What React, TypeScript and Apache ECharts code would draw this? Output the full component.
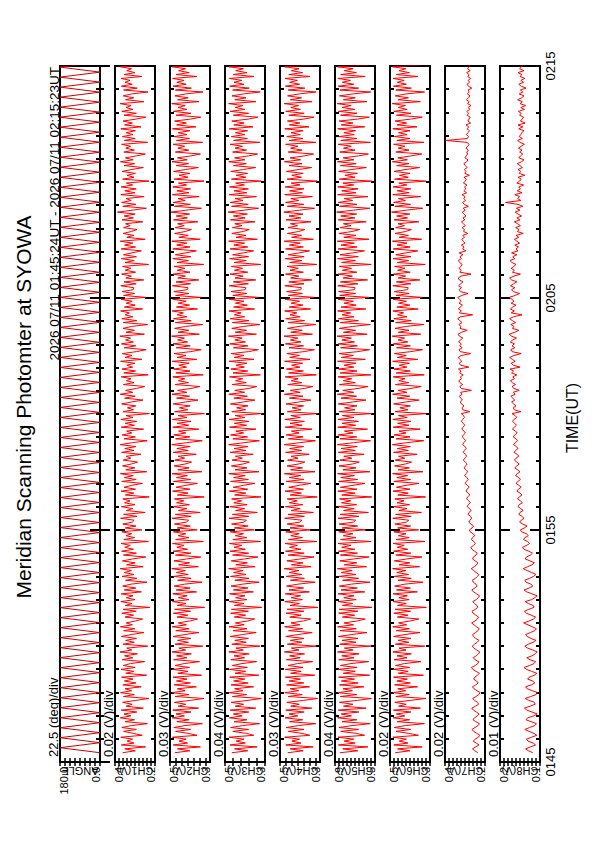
import { useEffect, useRef } from 'react';
import * as echarts from 'echarts';

const FONT = '"Liberation Sans", Arial, Helvetica, sans-serif';

const titleText = 'Meridian Scanning Photomter at SYOWA';
const headerText = '2026 07/11 01:45:24UT - 2026 07/11 02:15:23UT';
const timeAxisName = 'TIME(UT)';
const timeLabels = ['0145', '0155', '0205', '0215'];
const panelNames = ['ANGLE', 'CH1(V)', 'CH2(V)', 'CH3(V)', 'CH4(V)', 'CH5(V)', 'CH6(V)', 'CH7(V)', 'CH8(V)'];
const divLabels = ['22.5 (deg)/div', '0.02 (V)/div', '0.03 (V)/div', '0.04 (V)/div', '0.03 (V)/div', '0.04 (V)/div', '0.02 (V)/div', '0.02 (V)/div', '0.01 (V)/div'];
const maxLabels = ['180.0', '0.4', '0.5', '0.5', '0.5', '0.9', '0.5', '0.4', '0.2'];
const minLabels = ['0.0', '0.2', '0.3', '0.3', '0.3', '0.5', '0.3', '0.2', '0.1'];
const axisMax = [180, 0.4, 0.5, 0.5, 0.5, 0.9, 0.5, 0.4, 0.2];
const axisMin = [0, 0.2, 0.3, 0.3, 0.3, 0.5, 0.3, 0.2, 0.1];
const divSteps = [22.5, 0.02, 0.03, 0.04, 0.03, 0.04, 0.02, 0.02, 0.01];
// minutes after 01:45 UT
const startMin = 0.4;   // 01:45:24
const endMin = 30.383;  // 02:15:23

const angleDeg = [
  0,180,0,180,0,180,0,180,0,180, 0,180,0,180,0,180,0,180,0,180,
  0,180,0,180,0,180,0,180,0,180, 0,180,0,180,0,180,0,180,0,180,
  0,180,0,180,0,180,0,180,0,180, 0,180,0,180,0,180,0,180,0,180,
  0,180,0,180,0,180,0,180,0,180, 0,180,0,180,0,180,0,180,0,180,
  0,180,0,180,0,180,0,180,0,180, 0,180,0,180,0,180,0,180,0,180,
  0,180,0,180,0,180,0,180,0,180, 0,180,0,180,0,180,0,180,0,180,
  0,180,0,180,0,180,0,180,0,180, 0,180,0,180,0,180,0,180,0,180,
];

const ch1mV = [
  362,298,351,247,368,305,340,312,371,264, 309,357,293,366,318,238,349,302,374,321,
  355,291,369,258,344,314,362,296,231,358, 303,372,317,349,269,361,295,353,310,367,
  242,346,306,370,299,358,323,252,364,311, 352,288,375,316,341,236,359,304,347,292,
  368,319,255,357,301,373,313,344,297,262, 350,307,366,294,360,226,348,315,371,300,
  343,310,369,268,354,296,362,320,240,347, 291,365,305,353,318,374,259,342,299,363,
  312,246,358,293,367,308,351,324,370,233, 356,302,345,317,366,265,349,295,361,314,
  304,372,290,357,249,343,311,368,300,352, 325,361,229,348,306,370,297,355,316,263,
  366,294,353,309,373,241,346,301,362,319, 287,359,321,344,270,367,305,351,296,374,
  313,239,355,298,364,316,342,257,369,303, 349,292,371,310,345,228,360,307,338,296,
  367,318,260,352,299,374,311,347,292,251, 358,305,343,320,369,234,356,297,365,312,
  341,301,372,266,350,315,363,293,244,354, 296,368,308,347,322,376,253,345,303,360,
  317,237,359,291,366,311,349,328,372,262, 353,299,344,314,370,245,357,302,364,308,
  306,371,294,355,256,346,318,367,297,349, 321,362,232,350,304,368,293,358,315,268,
  369,297,352,311,374,249,341,306,360,318, 290,357,324,347,261,365,308,354,299,388,
  314,243,361,295,367,319,345,254,371,300, 351,294,369,312,343,230,362,305,340,298,
  365,316,258,354,302,373,309,348,293,248, 356,303,346,322,367,237,353,299,363,310,
  344,298,371,270,352,313,360,295,246,355, 293,366,310,345,319,375,255,347,306,359,
  316,235,357,289,368,314,350,325,369,266, 354,300,341,318,372,251,358,304,362,309,
];

const ch2mV = [
  476,401,463,348,484,412,455,419,488,365, 409,472,397,481,425,338,466,404,490,428,
  470,395,486,357,459,421,478,399,331,474, 406,489,424,463,368,479,398,468,415,485,
  342,461,410,487,402,474,429,352,482,416, 467,393,490,422,456,336,475,408,462,396,
  485,426,355,471,404,489,418,459,400,362, 465,411,483,397,477,327,464,420,488,405,
  458,414,486,367,469,399,479,427,340,462, 394,482,409,468,423,491,358,457,402,480,
  417,346,473,396,484,412,466,430,487,333, 472,405,460,421,483,364,464,398,478,419,
  407,489,394,474,349,458,416,485,403,467, 431,478,329,463,410,487,400,470,421,363,
  483,397,468,413,490,341,461,404,479,424, 392,476,427,459,369,484,409,466,399,491,
  418,339,472,401,481,421,457,356,486,406, 464,395,488,415,460,328,477,411,453,399,
  484,423,360,467,402,490,416,462,395,351, 475,408,458,426,486,334,471,400,482,417,
  456,404,489,366,465,420,480,396,344,469, 399,485,412,462,428,492,353,460,406,477,
  422,337,474,394,483,416,464,433,489,362, 468,402,459,419,487,345,472,405,481,413,
  410,488,397,470,356,461,423,484,400,464, 426,479,332,465,408,486,396,473,420,368,
  486,400,467,416,491,349,456,409,477,423, 393,474,429,462,361,482,413,469,402,495,
  419,343,478,398,484,424,460,354,488,405, 466,397,486,417,458,330,479,410,455,401,
  482,421,358,469,407,490,414,463,396,348, 473,406,461,427,484,337,468,402,480,415,
  459,401,488,370,467,418,477,398,346,470, 396,483,415,460,424,491,355,462,409,476,
  421,335,473,393,485,419,466,430,487,366, 470,404,457,422,489,350,474,407,479,412,
];

const ch3mV = [
  466,386,452,339,475,398,444,405,480,356, 393,461,382,472,411,327,455,390,478,414,
  458,381,474,346,449,407,469,385,318,463, 392,479,410,452,357,470,384,457,401,476,
  331,450,397,478,388,463,415,342,471,402, 455,379,481,408,446,325,466,394,451,383,
  474,412,344,460,390,480,404,448,386,352, 454,397,472,383,468,316,453,406,479,391,
  447,400,477,358,458,385,470,413,329,451, 380,473,395,457,409,482,349,446,388,469,
  403,335,462,382,475,398,455,416,478,322, 461,391,449,407,474,353,453,384,467,405,
  393,480,381,463,338,447,402,476,389,456, 417,467,320,452,396,478,386,459,407,351,
  472,383,457,399,481,330,450,390,468,410, 378,465,413,448,359,475,395,455,385,482,
  404,328,461,387,472,407,446,345,477,392, 453,381,479,401,449,318,466,397,442,385,
  473,409,350,456,388,481,402,451,381,341, 464,394,447,412,477,323,460,386,471,403,
  445,390,480,355,454,406,469,382,333,458, 385,476,398,451,414,483,343,449,392,466,
  408,326,463,380,474,402,453,419,480,352, 457,388,448,405,478,334,461,391,470,399,
  396,479,383,459,346,450,409,475,386,453, 412,468,321,454,394,477,382,462,406,357,
  475,386,456,402,482,338,445,395,466,409, 379,463,415,451,350,473,399,458,388,484,
  405,332,467,384,475,410,449,343,479,391, 455,383,477,403,447,319,468,396,444,387,
  471,407,347,458,393,481,400,452,382,337, 462,392,450,413,475,326,457,388,469,401,
  448,387,479,360,456,404,466,384,335,459, 382,474,401,449,410,482,345,451,395,465,
  407,324,462,379,476,405,455,416,478,355, 459,390,446,408,480,339,463,393,468,398,
];

const ch4mV = [
  462,384,449,334,471,395,441,402,477,351, 390,458,380,469,408,321,452,387,475,411,
  455,379,471,341,446,404,466,382,312,460, 389,476,407,449,352,467,381,454,398,473,
  326,447,394,475,385,460,412,337,468,399, 452,377,478,405,443,319,463,391,448,380,
  471,409,339,457,387,477,401,445,383,347, 451,394,469,380,465,311,450,403,476,388,
  444,397,474,353,455,382,467,410,324,448, 378,470,392,454,406,479,344,443,385,466,
  400,330,459,379,472,395,452,413,475,316, 458,388,446,404,471,348,450,381,464,402,
  390,477,378,460,333,444,399,473,386,453, 414,464,314,449,393,475,383,456,404,346,
  469,380,454,396,478,325,447,387,465,407, 376,462,410,445,354,472,392,452,382,479,
  401,323,458,384,469,404,443,340,474,389, 450,378,476,398,446,313,463,394,439,382,
  470,406,345,453,385,478,399,448,378,336, 461,391,444,409,474,318,457,383,468,400,
  442,387,477,350,451,403,466,379,328,455, 382,473,395,448,411,480,338,446,389,463,
  405,321,460,377,471,399,450,416,477,347, 454,385,445,402,475,329,458,388,467,396,
  393,476,380,456,341,447,406,472,383,450, 409,465,316,451,391,474,379,459,403,352,
  472,383,453,399,479,333,442,392,463,406, 376,460,412,448,345,470,396,455,385,481,
  402,327,464,381,472,407,446,338,476,388, 452,380,474,400,444,314,465,393,441,384,
  468,404,342,455,390,478,397,449,379,332, 459,389,447,410,472,321,454,385,466,398,
  445,384,476,355,453,401,463,381,330,456, 379,471,398,446,407,479,340,448,392,462,
  404,319,459,376,473,402,452,413,475,350, 456,387,443,405,477,334,460,390,465,395,
];

const ch5mV = [
  851,672,823,571,866,698,809,713,870,604, 688,843,664,861,729,548,830,682,874,735,
  838,661,867,588,815,720,857,676,536,846, 683,872,726,820,611,855,668,836,704,864,
  553,818,697,869,679,845,741,563,862,709, 832,659,875,718,806,542,853,690,829,670,
  866,732,580,849,687,873,715,811,676,597, 827,703,864,671,858,531,826,724,871,688,
  813,709,868,602,840,677,856,737,549,824, 664,861,693,837,728,876,584,808,683,852,
  712,558,846,675,865,702,833,739,870,539, 844,691,817,721,863,593,828,673,859,716,
  692,870,662,850,566,814,708,867,684,835, 743,855,533,833,699,872,680,847,719,600,
  864,674,842,706,875,551,821,689,860,725, 657,853,731,812,609,866,696,839,678,877,
  714,545,849,683,868,720,806,575,872,694, 830,666,871,710,826,535,858,701,804,680,
  867,727,590,841,685,876,713,822,669,569, 856,697,818,733,869,541,848,679,863,711,
  809,691,874,596,836,717,860,672,554,844, 676,868,705,831,736,879,578,815,694,857,
  723,547,851,666,866,709,829,744,873,592, 840,688,810,716,870,561,852,695,864,703,
  699,872,671,847,574,819,726,869,681,826, 735,857,538,834,696,874,667,850,718,605,
  868,678,839,707,877,559,812,692,861,729, 654,851,740,816,588,867,701,843,683,883,
  716,552,855,680,869,724,808,570,874,690, 833,669,872,713,821,534,857,699,801,676,
  864,730,586,846,688,875,711,819,666,566, 853,700,815,737,868,546,842,682,862,708,
  811,694,873,603,838,719,858,675,557,845, 679,866,702,828,738,878,581,817,697,855,
  720,543,852,664,867,712,827,745,871,598, 843,686,808,719,872,568,850,693,863,706,
];

const ch6mV = [
  474,401,462,339,481,410,454,418,486,358, 407,470,397,479,423,328,464,402,484,426,
  468,395,483,348,457,419,476,399,320,471, 404,485,422,461,362,477,398,466,413,482,
  333,459,409,484,401,472,428,345,480,415, 465,393,486,420,455,326,473,406,460,396,
  482,425,350,469,403,486,417,457,399,356, 463,410,481,397,475,318,462,419,485,404,
  456,413,484,363,467,398,477,426,334,460, 394,479,407,466,421,487,352,455,401,478,
  416,340,471,396,482,411,464,429,484,325, 470,404,458,420,481,357,462,397,476,418,
  406,486,394,472,343,456,415,483,402,465, 430,476,322,461,409,485,400,468,420,355,
  481,397,466,412,487,335,459,403,477,423, 392,474,426,457,364,482,408,464,398,488,
  417,331,470,400,480,420,455,349,484,405, 462,395,486,414,458,319,475,410,451,398,
  482,422,354,465,401,487,415,460,395,344, 473,407,456,425,484,329,469,399,480,416,
  454,403,487,361,463,419,478,396,337,467, 398,483,411,460,427,489,346,458,405,475,
  421,330,472,394,481,415,462,432,486,359, 466,401,457,418,485,339,470,404,479,412,
  409,486,396,468,351,459,422,482,399,462, 425,477,324,463,407,484,395,471,419,361,
  484,399,465,415,488,342,454,408,475,422, 393,472,428,460,356,480,412,467,401,492,
  418,336,476,397,482,423,458,347,486,404, 464,396,484,416,456,321,477,409,453,400,
  480,420,352,467,406,488,413,461,395,341, 471,405,459,426,482,330,466,401,478,414,
  457,400,486,365,465,417,475,397,339,468, 395,481,414,458,423,489,348,460,408,474,
  420,327,471,393,483,418,464,429,485,360, 468,403,455,421,487,344,472,406,477,411,
];

const ch7mV = [
  236,251,263,247,230,244,259,249,233,226, 241,257,265,250,235,228,246,260,253,238,
  229,243,258,266,248,232,237,252,262,245, 231,224,240,255,263,246,234,242,257,251,
  237,228,245,261,268,249,236,231,250,259, 244,233,226,241,256,264,252,239,230,247,
  258,262,248,235,229,243,255,267,250,238, 232,246,260,265,249,236,240,253,261,244,
  234,227,242,258,266,251,239,245,259,263, 248,237,231,244,257,269,254,242,236,249,
  262,258,245,239,252,266,271,257,248,255, 268,263,251,259,274,278,265,257,270,281,
  276,266,272,285,280,269,277,289,284,273, 281,292,287,276,283,295,290,279,288,299,
  293,284,290,302,296,286,294,305,297,289, 299,308,301,292,297,309,303,294,300,311,
  306,297,304,314,308,298,305,316,310,301, 309,318,312,303,307,319,276,311,315,305,
  317,324,313,321,328,315,322,268,319,326, 312,325,331,318,323,309,327,320,333,281,
  322,329,316,326,334,319,272,324,330,314, 327,318,332,323,311,328,335,317,289,325,
  320,331,315,326,337,321,262,329,318,333, 324,313,330,319,327,336,316,285,323,329,
  317,332,322,310,328,334,320,270,326,319, 330,321,314,327,333,318,325,311,329,296,
  312,305,318,300,309,316,302,311,286,307, 303,314,298,308,318,301,310,295,306,313,
  299,309,283,304,312,297,306,300,315,292, 306,296,302,290,308,299,293,305,278,301,
  295,303,289,298,306,292,285,300,294,287, 291,283,296,286,279,290,397,288,282,293,
  285,277,290,281,295,272,286,280,274,289, 282,291,276,284,270,287,279,293,283,275,
  288,279,285,266,283,290,277,284,272,286, 280,292,274,287,281,276,289,271,284,279,
];

const ch8mV = [
  118,129,136,124,111,117,130,134,121,108, 115,127,138,126,113,109,122,135,131,116,
  107,120,133,139,125,112,114,128,137,123, 110,106,119,132,136,122,113,118,131,127,
  114,108,121,134,140,126,115,111,125,133, 120,112,107,118,131,138,129,117,110,123,
  132,136,124,113,109,119,130,141,127,116, 111,122,134,139,128,115,117,129,137,121,
  113,107,120,133,140,127,118,123,135,138, 126,116,110,121,132,142,131,120,114,125,
  137,134,124,119,128,140,144,133,126,131, 141,138,129,134,146,149,139,132,143,151,
  147,140,145,153,150,142,148,155,152,144, 149,156,152,145,150,158,154,147,153,160,
  155,149,153,161,157,150,156,163,158,152, 158,164,160,153,157,165,161,155,159,166,
  162,156,160,167,163,157,161,169,164,159, 163,169,165,158,162,170,148,164,167,160,
  166,171,163,168,173,162,167,152,165,170, 161,169,174,164,168,158,171,166,175,150,
  167,172,162,169,176,165,147,170,173,163, 170,164,174,168,159,171,177,163,153,169,
  165,173,161,169,176,166,145,172,164,174, 168,160,172,165,170,177,162,151,167,171,
  163,174,166,158,171,176,165,149,169,164, 172,166,160,170,175,163,168,158,171,155,
  160,154,163,151,158,164,153,160,142,157, 152,161,149,156,164,150,158,146,155,162,
  150,159,143,155,186,148,156,151,163,145, 157,149,153,141,158,151,147,155,138,152,
  148,155,144,150,157,146,140,153,149,143, 151,145,154,147,139,150,156,144,152,148,
  146,140,153,143,155,137,149,145,141,151, 147,154,139,148,136,150,144,156,146,140,
  152,143,149,135,147,153,141,148,138,150, 145,155,140,151,146,142,154,137,149,144,
];

// ---- layout constants ----
const PANEL_LEFT0 = 60;
const PANEL_PITCH = 55;
const PANEL_W = 40;
const PANEL_TOP = 66;
const PANEL_H = 696;
const PANEL_BOTTOM = PANEL_TOP + PANEL_H;

function toSeries(values: number[], scale: number): number[][] {
  const n = values.length;
  return values.map((v, k) => [v * scale, startMin + (k * (endMin - startMin)) / (n - 1)]);
}

function tickValues(max: number, min: number, step: number): number[] {
  const out: number[] = [];
  for (let k = 0; k < 100; k++) {
    const v = +(max - k * step).toFixed(6);
    if (v < min - 1e-9) break;
    out.push(v);
  }
  return out;
}

function txt(text: string, x: number, y: number, size: number, rotation: number, align: string, vAlign: string) {
  return {
    type: 'text',
    x,
    y,
    rotation,
    silent: true,
    style: {
      text,
      fill: '#000',
      fontSize: size,
      fontFamily: FONT,
      font: `${size}px ${FONT}`,
      align,
      verticalAlign: vAlign,
      textAlign: align,
      textVerticalAlign: vAlign,
    },
  };
}

function buildOption() {
  const seriesData = [
    toSeries(angleDeg, 1),
    toSeries(ch1mV, 0.001),
    toSeries(ch2mV, 0.001),
    toSeries(ch3mV, 0.001),
    toSeries(ch4mV, 0.001),
    toSeries(ch5mV, 0.001),
    toSeries(ch6mV, 0.001),
    toSeries(ch7mV, 0.001),
    toSeries(ch8mV, 0.001),
  ];
  const grids: any[] = [];
  const xAxes: any[] = [];
  const yAxes: any[] = [];
  const series: any[] = [];
  const graphics: any[] = [];
  const nP = panelNames.length;
  for (let i = 0; i < nP; i++) {
    const left = PANEL_LEFT0 + i * PANEL_PITCH;
    grids.push({
      left,
      top: PANEL_TOP,
      width: PANEL_W,
      height: PANEL_H,
      show: true,
      borderColor: '#000',
      borderWidth: 2,
      backgroundColor: 'transparent',
      containLabel: false,
    });
    const ticks = tickValues(axisMax[i], axisMin[i], divSteps[i]);
    for (const pos of ['bottom', 'top']) {
      xAxes.push({
        gridIndex: i,
        type: 'value',
        position: pos,
        min: axisMin[i],
        max: axisMax[i],
        inverse: true,
        axisLine: { show: false },
        axisTick: { show: true, inside: true, length: 4, customValues: ticks, lineStyle: { color: '#000', width: 1.5 } },
        axisLabel: { show: false },
        splitLine: { show: false },
      });
    }
    for (const pos of ['left', 'right']) {
      const isLabelAxis = i === nP - 1 && pos === 'right';
      yAxes.push({
        gridIndex: i,
        type: 'value',
        position: pos,
        min: 0,
        max: 30,
        interval: 10,
        axisLine: { show: false },
        axisTick: { show: true, inside: true, length: 10, lineStyle: { color: '#000', width: 2 } },
        minorTick: { show: true, splitNumber: 10, length: 4, lineStyle: { color: '#000', width: 2 } },
        minorSplitLine: { show: false },
        splitLine: { show: false },
        axisLabel: isLabelAxis
          ? {
              show: true,
              rotate: 90,
              align: 'center',
              verticalAlign: 'top',
              margin: 4,
              fontSize: 13,
              fontFamily: FONT,
              color: '#000',
              showMinLabel: true,
              showMaxLabel: true,
              formatter: (v: number) => timeLabels[Math.round(v / 10)] ?? '',
            }
          : { show: false },
      });
    }
    series.push({
      type: 'line',
      xAxisIndex: 2 * i,
      yAxisIndex: 2 * i,
      data: seriesData[i],
      symbol: 'none',
      showSymbol: false,
      clip: true,
      lineStyle: { color: i === 0 ? '#cc0000' : '#ff0000', width: 1 },
      emphasis: { disabled: true },
      silent: true,
    });
    graphics.push(txt(divLabels[i], left - 7, PANEL_BOTTOM - 5, 13, Math.PI / 2, 'left', 'middle'));
    graphics.push(txt(maxLabels[i], left + 4, PANEL_BOTTOM + 5, 11, Math.PI / 2, 'right', 'middle'));
    graphics.push(txt(minLabels[i], left + PANEL_W - 4, PANEL_BOTTOM + 5, 11, Math.PI / 2, 'right', 'middle'));
    graphics.push(txt(panelNames[i], left + PANEL_W / 2, PANEL_BOTTOM + 9, 11, Math.PI, 'center', 'middle'));
  }
  graphics.push(txt(titleText, 23, 407, 21, Math.PI / 2, 'center', 'middle'));
  graphics.push(txt(headerText, 54, PANEL_TOP + 1, 13.5, Math.PI / 2, 'right', 'middle'));
  graphics.push(txt(timeAxisName, 572, 418, 16, Math.PI / 2, 'center', 'middle'));

  return {
    animation: false,
    backgroundColor: '#ffffff',
    grid: grids,
    xAxis: xAxes,
    yAxis: yAxes,
    series,
    graphic: graphics,
    tooltip: { show: false },
  };
}

export default function App() {
  const ref = useRef<HTMLDivElement>(null);
  useEffect(() => {
    if (!ref.current) return;
    document.body.style.margin = '0';
    document.body.style.padding = '0';
    document.body.style.overflow = 'hidden';
    document.documentElement.style.margin = '0';
    const chart = echarts.init(ref.current, undefined, { renderer: 'svg' });
    chart.setOption(buildOption() as any);
    return () => {
      chart.dispose();
    };
  }, []);
  return (
    <div
      ref={ref}
      style={{ position: 'relative', margin: 0, width: 595, height: 842, background: '#fff' }}
    />
  );
}
